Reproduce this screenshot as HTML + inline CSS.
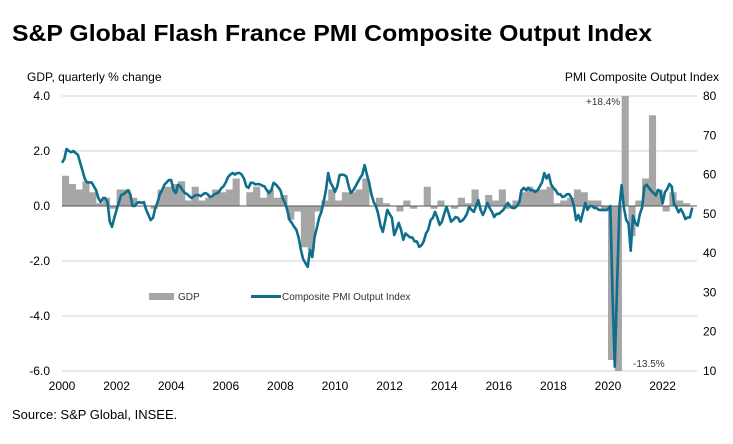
<!DOCTYPE html>
<html><head><meta charset="utf-8"><style>
body{margin:0;background:#fff;width:733px;height:439px;overflow:hidden;font-family:"Liberation Sans",Arial,sans-serif}
svg text{font-family:"Liberation Sans",Arial,sans-serif}
</style></head><body>
<svg id="chart" width="733" height="439">
<text x="12" y="41" font-size="23.5" font-weight="bold" fill="#000" textLength="640" lengthAdjust="spacingAndGlyphs">S&amp;P Global Flash France PMI Composite Output Index</text>
<text x="27" y="81" font-size="12" fill="#000">GDP, quarterly % change</text>
<text x="719" y="81" font-size="12" fill="#000" text-anchor="end">PMI  Composite Output Index</text>
<text x="12" y="419" font-size="13" fill="#000">Source: S&amp;P Global, INSEE.</text>
<g id="grid"></g><g id="bars"></g><g id="zero"></g><g id="line"></g><g id="axes"></g>
<text x="586" y="105" font-size="10" fill="#333">+18.4%</text>
<text x="633" y="367" font-size="10" fill="#333">-13.5%</text>
<g>
<rect x="149" y="293" width="25" height="7" fill="#a6a6a6"></rect>
<text x="178" y="300" font-size="10" fill="#333">GDP</text>
<line x1="251" y1="296.5" x2="281" y2="296.5" stroke="#0e6e8c" stroke-width="3"></line>
<text x="282" y="300" font-size="10" fill="#333">Composite PMI Output Index</text>
</g>
</svg>
<script>
const gdpStartYear = 2000;
const gdpValues = [
1.1,0.8,0.6,0.9, 0.5,0.1,0.3,-0.1, 0.6,0.6,0.3,0.0, 0.0,-0.1,0.6,0.7,
0.8,0.9,0.2,0.7, 0.2,0.3,0.6,0.5, 0.6,1.0,0.0,0.5, 0.7,0.3,0.6,0.3,
0.4,-0.5,-0.2,-1.5, -1.6,-0.2,0.2,0.6, 0.2,0.5,0.5,0.6, 1.0,0.0,0.3,0.1,
0.0,-0.2,0.2,-0.1, 0.0,0.7,-0.1,0.2, 0.0,-0.1,0.3,0.1, 0.6,0.0,0.4,0.2,
0.6,-0.1,0.2,0.5, 0.7,0.6,0.6,0.7, 0.1,0.2,0.3,0.6, 0.5,0.2,0.2,-0.2,
-5.6,-13.5,18.4,-1.1, 0.2,1.0,3.3,0.6, -0.2,0.5,0.2,0.1];
const pmiStartYear = 2000;
const pmiValues = [
63,64,66.5,66,65.7,66,65.5,65,63,61,59,58,
58,58,57,56,54,53,54,54,53,48,46.7,49,
51,53,54.8,55,55.5,56,55,52,52,52.8,53,52.8,
53,51,49.7,48.4,49,51.5,53,55,56,57.4,58,58.6,
58.6,56,55.3,57.4,57,56,55.3,55,54.5,54,54.5,54.8,
54.8,54.5,55,55.3,55,54.3,54.5,55,55.2,55.6,56.5,57,
58,59.4,60,60.4,60,60.4,60.4,60,59,57,56.6,57.9,
57.9,57.5,57.6,57.5,57.2,57,56,55.3,56,57.9,57.5,56.8,
56,54,52.8,51,48.5,47.7,46.7,46,44,40.8,38.5,37.5,
36.5,40.8,39,44,46.4,49,50.5,53,56,60.4,58,57,
55.6,57,59.9,60,59.9,59.5,57,55.3,56,57,58,59.1,
60,62.4,60,58,55,53,52,50,47,45.4,48,51,
50,49,44.6,46,47.7,46,43.4,45,44.5,44,44,43,
43,41.6,42,43,45,46,48.4,49,50.5,49,47.2,48,
50,51.8,50,48,48.5,49.2,49,48,48.3,49,50,51.8,
51,50.5,52,53.5,51,49.7,51,52.8,51.5,50.5,49.2,50,
50,50.5,51,52,52.8,52,51.5,51.5,52,53,56,56.6,
56,56.6,56,56,55.6,56,57,58,60.4,59,60,57.5,
56.6,56,55,55,54.3,54.5,55,55,54,52,48.4,49.7,
48,50.5,52.8,51,52,52,51.5,51.5,51,51,51,51,
51.1,52,28.9,11.1,32.1,51.7,57.3,51.6,48.5,47.5,40.6,49.5,
47.7,47,50,51.6,57,57.4,56.6,55.9,55.3,54.7,56.1,55.8,
52.7,55.5,56.3,57.6,57,52.5,51.7,50.4,51.2,50.2,48.7,49.1,
49.1,51.6];
const leftTicks = ["4.0","2.0","0.0","-2.0","-4.0","-6.0"];
const rightTicks = ["80","70","60","50","40","30","20","10"];
const yearTicks = ["2000","2002","2004","2006","2008","2010","2012","2014","2016","2018","2020","2022"];

const NS="http://www.w3.org/2000/svg";
const X0=62, X1=697, PX_PER_YEAR=27.3, YT=96, YB=371;
const xs=t=>X0+(t-2000)*PX_PER_YEAR;
const yL=v=>YT+(4-v)*(YB-YT)/10;
const yR=v=>YT+(80-v)*(YB-YT)/70;
function mk(tag,attrs,parent){const e=document.createElementNS(NS,tag);for(const k in attrs)e.setAttribute(k,attrs[k]);parent.appendChild(e);return e;}
const grid=document.getElementById('grid'), bars=document.getElementById('bars'), zero=document.getElementById('zero'), lineG=document.getElementById('line'), axes=document.getElementById('axes');

leftTicks.forEach(s=>{
  const v=parseFloat(s), y=yL(v);
  if(v!==0){const g=mk('line',{x1:X0,x2:X1,y1:y,y2:y,stroke:'#d0d0d0','stroke-width':1},grid);
  
  }
  const t=mk('text',{x:50,y:y+4,'font-size':12,'text-anchor':'end',fill:'#000'},axes);
  t.textContent=s;
  
  
});
rightTicks.forEach(s=>{
  const y=yR(parseFloat(s));
  const t=mk('text',{x:703,y:y+4,'font-size':12,fill:'#000'},axes);
  t.textContent=s;
  
  
});
yearTicks.forEach(s=>{
  const x=xs(parseFloat(s));
  const t=mk('text',{x:x,y:390,'font-size':12,'text-anchor':'middle',fill:'#000'},axes);
  t.textContent=s;
  
  
});
const qw=PX_PER_YEAR/4;
gdpValues.forEach((v,i)=>{
  const t=gdpStartYear+i/4, x=xs(t);
  const vc=Math.max(-6,Math.min(4,v));
  const y0=yL(0), y1=yL(vc);
  const r=mk('rect',{x:x,y:Math.min(y0,y1),width:qw+0.3,height:Math.abs(y1-y0),fill:'#a6a6a6'},bars);
  
  
});
const zl=mk('line',{x1:X0,x2:X1,y1:yL(0),y2:yL(0),stroke:'#555','stroke-width':1},zero);


const pts=pmiValues.map((v,i)=>xs(pmiStartYear+i/12).toFixed(1)+','+yR(v).toFixed(1)).join(' ');
const pl=mk('polyline',{points:pts,fill:'none',stroke:'#0e6e8c','stroke-width':2.6,'stroke-linejoin':'round'},lineG);


</script>
</body></html>
